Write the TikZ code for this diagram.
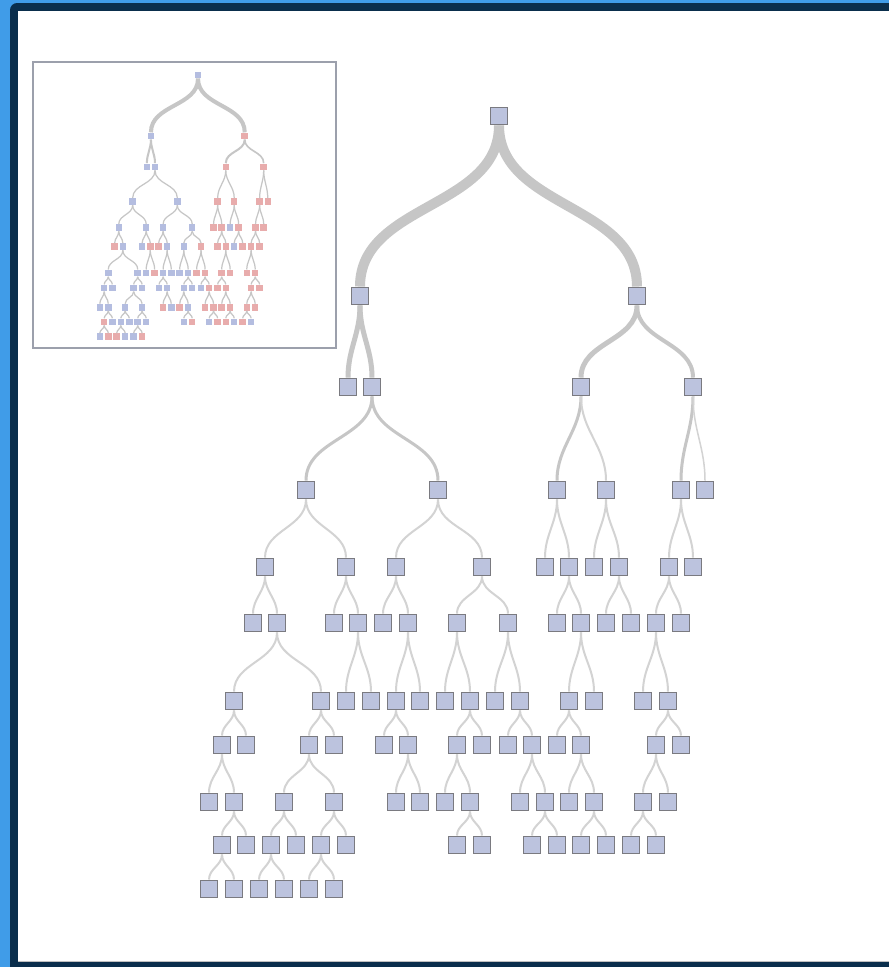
\documentclass[tikz,border=0pt]{standalone}
\usepackage{tikz}
\definecolor{deskblue}{RGB}{64,156,232}
\definecolor{framenavy}{RGB}{10,46,76}
\definecolor{boxfill}{RGB}{188,195,222}
\definecolor{boxline}{RGB}{122,122,128}
\definecolor{branchgray}{RGB}{198,198,198}
\definecolor{minib}{RGB}{180,189,224}
\definecolor{minir}{RGB}{232,172,172}
\definecolor{miniframe}{RGB}{156,160,172}
\tikzset{
    split/.style={rectangle, draw=boxline, fill=boxfill, line width=0.8pt, minimum size=0.35cm, inner sep=0pt},
    minibox/.style={rectangle, fill=mini#1, minimum size=0.13cm, inner sep=0pt},
    branch/.style={draw=branchgray!#1!white}
}
\def\TreeNodes{r/499/116/b, a/360/296/b, b/637/296/r,
    c1/348/387/b, c2/372/387/b, c3/581/387/r, c4/693/387/r,
    d1/306/490/b, d2/438/490/b, d3/557/490/r, d4/606/490/r, d5/681/490/r, d6/705/490/r,
    e1/265/567/b, e2/346/567/b, e3/396/567/b, e4/482/567/b, e5/545/567/r, e6/569/567/r, e7/594/567/b, e8/619/567/r, e9/669/567/r, e10/693/567/r,
    f1/253/623/r, f2/277/623/b, f3/334/623/b, f4/358/623/r, f5/383/623/r, f6/408/623/b, f7/457/623/b, f8/508/623/r, f9/557/623/r, f10/581/623/r, f11/606/623/b, f12/631/623/r, f13/656/623/r, f14/681/623/r,
    g1/234/701/b, g2/321/701/b, g3/346/701/b, g4/371/701/r, g5/396/701/b, g6/420/701/b, g7/445/701/b, g8/470/701/b, g9/495/701/r, g10/520/701/r, g11/569/701/r, g12/594/701/r, g13/643/701/r, g14/668/701/r,
    h1/222/745/b, h2/246/745/b, h3/309/745/b, h4/334/745/b, h5/384/745/b, h6/408/745/b, h7/457/745/b, h8/482/745/b, h9/508/745/b, h10/532/745/r, h11/557/745/r, h12/581/745/r, h13/656/745/r, h14/681/745/r,
    i1/209/802/b, i2/234/802/b, i3/284/802/b, i4/334/802/b, i5/396/802/r, i6/420/802/b, i7/445/802/r, i8/470/802/b, i9/520/802/r, i10/545/802/r, i11/569/802/r, i12/594/802/r, i13/643/802/r, i14/668/802/r,
    j1/222/845/r, j2/246/845/b, j3/271/845/b, j4/296/845/b, j5/321/845/b, j6/346/845/b, j7/457/845/b, j8/482/845/r, j9/532/845/b, j10/557/845/r, j11/581/845/r, j12/606/845/b, j13/631/845/r, j14/656/845/b,
    k1/209/889/b, k2/234/889/r, k3/259/889/r, k4/284/889/b, k5/309/889/b, k6/334/889/r}
\def\TreeEdges{r/a/10, r/b/10, a/c1/5, a/c2/5, b/c3/5, b/c4/4,
    c2/d1/3, c2/d2/3, c3/d3/3, c3/d4/2, c4/d5/3, c4/d6/1.5,
    d1/e1/2, d1/e2/2, d2/e3/2, d2/e4/2, d3/e5/2, d3/e6/2, d4/e7/2, d4/e8/2, d5/e9/2, d5/e10/2,
    e1/f1/2, e1/f2/2, e2/f3/2, e2/f4/2, e3/f5/2, e3/f6/2, e4/f7/2, e4/f8/2, e6/f9/2, e6/f10/2, e8/f11/2, e8/f12/2, e9/f13/2, e9/f14/2,
    f2/g1/2, f2/g2/2, f4/g3/2, f4/g4/2, f6/g5/2, f6/g6/2, f7/g7/2, f7/g8/2, f8/g9/2, f8/g10/2, f10/g11/2, f10/g12/2, f13/g13/2, f13/g14/2,
    g1/h1/2, g1/h2/2, g2/h3/2, g2/h4/2, g5/h5/2, g5/h6/2, g8/h7/2, g8/h8/2, g10/h9/2, g10/h10/2, g11/h11/2, g11/h12/2, g14/h13/2, g14/h14/2,
    h1/i1/2, h1/i2/2, h3/i3/2, h3/i4/2, h6/i5/2, h6/i6/2, h7/i7/2, h7/i8/2, h10/i9/2, h10/i10/2, h12/i11/2, h12/i12/2, h13/i13/2, h13/i14/2,
    i2/j1/2, i2/j2/2, i3/j3/2, i3/j4/2, i4/j5/2, i4/j6/2, i8/j7/2, i8/j8/2, i10/j9/2, i10/j10/2, i12/j11/2, i12/j12/2, i13/j13/2, i13/j14/2,
    j1/k1/2, j1/k2/2, j3/k3/2, j3/k4/2, j5/k5/2, j5/k6/2}

\begin{document}
\begin{tikzpicture}[x=0.02cm, y=-0.02cm]
    \useasboundingbox (0,0) rectangle (889,967);
    \fill[deskblue] (0,0) rectangle (889,967);
    \fill[framenavy, rounded corners=4pt] (10,3) rectangle (920,990);
    \fill[white] (18,11) rectangle (889,961);
    \draw[black!25] (18,961) -- (889,961);
    \draw[miniframe, line width=0.8pt] (33,62) rectangle (336,348);

    \foreach \n/\x/\y/\c in \TreeNodes
        \node[split] (n\n) at (\x,\y) {};
    \foreach \p/\q/\w in \TreeEdges {
        \pgfmathsetmacro\lw{\w*0.569}
        \pgfmathsetmacro\tone{\w>2.5 ? 100 : 78}
        \draw[branch=\tone, line width=\lw pt] (n\p.south) to[out=-90,in=90] (n\q.north);
    }

    \begin{scope}[shift={(29.04,35.72)}, scale=0.3386]
        \foreach \n/\x/\y/\c in \TreeNodes
            \node[minibox=\c] (m\n) at (\x,\y) {};
        \foreach \p/\q/\w in \TreeEdges {
            \pgfmathsetmacro\mw{max(0.7,\w*0.23)}
            \draw[branch=100, line width=\mw pt] (m\p.south) to[out=-90,in=90] (m\q.north);
        }
    \end{scope}
\end{tikzpicture}
\end{document}
